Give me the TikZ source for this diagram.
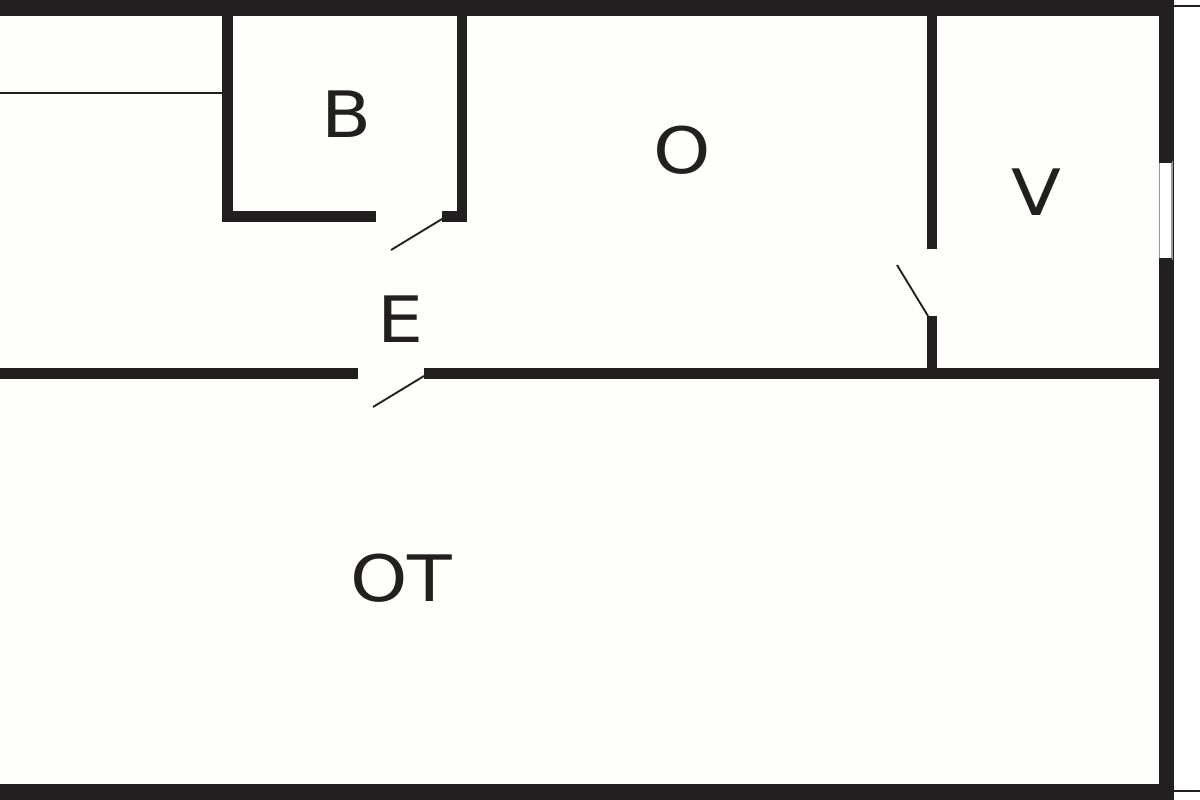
\documentclass[tikz,border=0pt]{standalone}
\usepackage{fontspec}
\setmainfont{DejaVu Sans}
\definecolor{wallc}{HTML}{231F20}
\definecolor{floorc}{HTML}{FEFFFA}
\tikzset{
  wall/.style={fill=wallc,draw=none},
  thin line/.style={draw=wallc,line width=1.1pt},
  door/.style={draw=wallc,line width=1.4pt},
  room/.style={text=wallc,font=\fontsize{48}{48}\selectfont,inner sep=0pt,anchor=center,xscale=1.14}
}
\begin{document}
\begin{tikzpicture}[x=0.75pt,y=-0.75pt]
\useasboundingbox (0,0) rectangle (1200,800);
\fill[white] (0,0) rectangle (1200,800);
\fill[floorc] (0,0) rectangle (1165,800);
% outer walls
\fill[wall] (0,0) rectangle (1174,16);
\fill[wall] (0,784) rectangle (1174,800);
\fill[wall] (1159,0) rectangle (1174,800);
% window
\fill[white,draw=gray!80,line width=0.8pt] (1159.5,162) rectangle (1172,259);
\draw[wallc,line width=1pt] (1159,162) -- (1172,162) (1159,259) -- (1172,259);
% outside thin lines
\draw[thin line,line width=1.5pt] (1174,6) -- (1200,6);
\draw[thin line,line width=1.5pt] (1174,791) -- (1200,791);
% horizontal wall
\fill[wall] (0,368) rectangle (358,379);
\fill[wall] (424,368) rectangle (1159,379);
% B room
\fill[wall] (222,16) rectangle (233,222);
\fill[wall] (457,16) rectangle (467,222);
\fill[wall] (222,211) rectangle (376,222);
\fill[wall] (442,211) rectangle (467,222);
% V room wall
\fill[wall] (927,16) rectangle (937,249);
\fill[wall] (927,316) rectangle (937,373);
% thin wall
\draw[thin line] (0,93) -- (222,93);
% doors
\draw[door] (442,219) -- (391,250);
\draw[door] (424,376) -- (373,407);
\draw[door] (928,316) -- (897,265);
% labels
\node[room] (b) at (347,114) {B};
\node[room] (o) at (682,150) {O};
\node[room] (v) at (1036,192) {V};
\node[room] (e) at (401,319) {E};
\node[room] (ot) at (401,578) {OT};
\end{tikzpicture}
\end{document}
